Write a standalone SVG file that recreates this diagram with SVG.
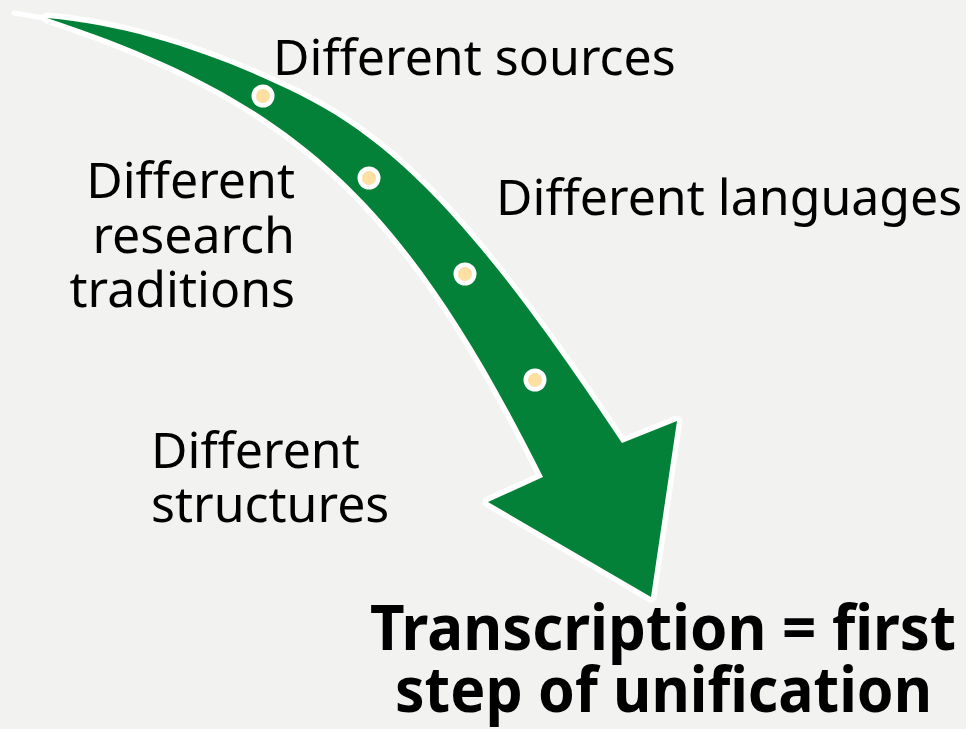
<svg xmlns="http://www.w3.org/2000/svg" width="966" height="729" viewBox="0 0 966 729">
<defs>
<style>
.lbl{font-family:"Noto Sans","Open Sans",sans-serif;font-size:50px;fill:#000}
.big{font-family:"Noto Sans","Open Sans",sans-serif;font-size:62px;font-weight:bold;fill:#000}
.dotw{fill:#fff}
.doty{fill:#fddfa2}
</style>
</defs>
<rect width="966" height="729" fill="#f2f2f1"/>
<g id="connectors">
<g id="arrow">
<line x1="14" y1="13" x2="55" y2="20" stroke="#fff" stroke-width="5" stroke-linecap="round"/>
<path d="M47,18 C132,25 224,57 300,95 C401,145.6 482,232.6 622,443 L677,421 L651,597 L488,502 L543,477 C405,201 296,100 47,18 Z" fill="#048139" stroke="#fff" stroke-width="11" stroke-linejoin="round" paint-order="stroke"/>
</g>
</g>
<g id="dots">
<circle class="dotw" cx="263" cy="96" r="11.5"/><circle class="doty" cx="263" cy="96" r="7"/>
<circle class="dotw" cx="369" cy="178" r="11.5"/><circle class="doty" cx="369" cy="178" r="7"/>
<circle class="dotw" cx="465" cy="274" r="11.5"/><circle class="doty" cx="465" cy="274" r="7"/>
<circle class="dotw" cx="535" cy="380" r="11.5"/><circle class="doty" cx="535" cy="380" r="7"/>
</g>
<g id="node-sources"><text class="lbl" x="273" y="75">Different sources</text></g>
<g id="node-languages"><text class="lbl" x="496" y="215">Different languages</text></g>
<g id="node-traditions"><text class="lbl" text-anchor="end" x="295"><tspan x="295" y="198">Different</tspan><tspan x="295" y="253">research</tspan><tspan x="295" y="307">traditions</tspan></text></g>
<g id="node-structures"><text class="lbl" x="151"><tspan x="151" y="468">Different</tspan><tspan x="151" y="522">structures</tspan></text></g>
<g id="node-transcription">
<text class="big" x="370" y="650" textLength="586" lengthAdjust="spacingAndGlyphs">Transcription = first</text>
<text class="big" x="395" y="712" textLength="537" lengthAdjust="spacingAndGlyphs">step of unification</text>
</g>
</svg>
